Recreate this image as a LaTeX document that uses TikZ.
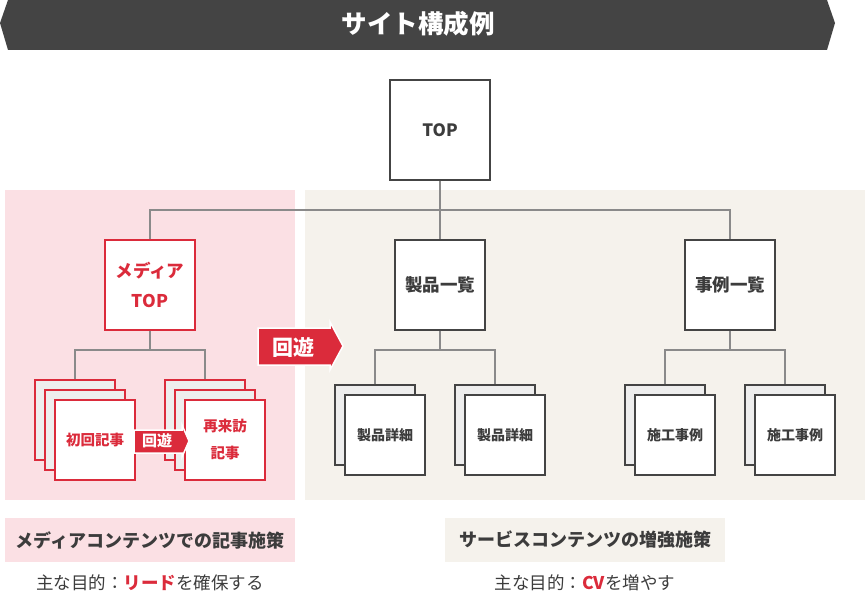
\documentclass[tikz,border=0pt]{standalone}
\usepackage{fontspec}
\setmainfont{Noto Sans CJK JP}
\usetikzlibrary{positioning}
\definecolor{bannergray}{HTML}{444444}
\definecolor{textgray}{HTML}{3C3C3C}
\definecolor{accent}{HTML}{DB2B3B}
\definecolor{pinkbg}{HTML}{FBE0E4}
\definecolor{beigebg}{HTML}{F5F2EC}
\definecolor{backfill}{HTML}{EEEEEE}
\definecolor{linkgray}{HTML}{8A8A8A}
\tikzset{
  box/.style={draw=bannergray, fill=white, line width=1.3pt, minimum size=#1, inner sep=0pt, text=textgray, align=center},
  backbox/.style={box=#1, fill=backfill},
  redbox/.style={draw=accent, fill=white, line width=1.3pt, minimum size=#1, inner sep=0pt, text=accent, align=center},
  redback/.style={redbox=#1, fill=backfill},
  link/.style={draw=linkgray, line width=1.2pt},
  loopshape/.style={fill=accent, draw=white, line width=1.5pt, line join=miter},
}
\begin{document}
\begin{tikzpicture}[x=1pt, y=-1pt]
  \useasboundingbox (0,0) rectangle (865,596);

  % title banner
  \fill[bannergray] (8,0) -- (827,0) -- (835,23) -- (827,50) -- (8,50) -- (0,23) -- cycle;
  \node[text=white, font=\fontsize{25.5}{28}\selectfont\bfseries] (title) at (418,24) {サイト構成例};

  % background areas
  \fill[pinkbg] (5,190) rectangle (295,500);
  \fill[beigebg] (305,190) rectangle (865,500);

  % top level
  \node[box=100, font=\fontsize{17}{20}\selectfont\bfseries] (top) at (440,130) {TOP};
  \node[redbox=90, font=\fontsize{17.5}{30}\selectfont\bfseries] (media) at (150,285) {メディア\\TOP};
  \node[box=90, font=\fontsize{17.5}{20}\selectfont\bfseries] (seihin) at (440,285) {製品一覧};
  \node[box=90, font=\fontsize{17.5}{20}\selectfont\bfseries] (jirei) at (730,285) {事例一覧};

  \coordinate (bus) at (440,210);
  \draw[link] (top) -- (seihin);
  \draw[link] (media.north) -- (media.north |- bus) -- (jirei.north |- bus) -- (jirei.north);

  % media articles (three layers)
  \node[redback=80] (firstc) at (75,420) {};
  \node[redback=80] (firstb) at (85,430) {};
  \node[redbox=80, font=\fontsize{14.5}{17}\selectfont\bfseries] (first) at (95,440) {初回記事};
  \node[redback=80] (againc) at (205,420) {};
  \node[redback=80] (againb) at (215,430) {};
  \node[redbox=80, font=\fontsize{14.5}{27}\selectfont\bfseries] (again) at (225,440) {再来訪\\記事};

  \coordinate (mediabus) at (150,350);
  \draw[link] (media) -- (mediabus);
  \draw[link] (firstc.north) -- (firstc.north |- mediabus) -- (againc.north |- mediabus) -- (againc.north);

  % small loop arrow
  \draw[loopshape] (134,430) -- (182,430) -- (182,425) -- (189,441) -- (182,457) -- (182,453) -- (134,453) -- cycle;
  \node[text=white, font=\fontsize{15}{17}\selectfont\bfseries] (loopsmall) at (157,441) {回遊};

  % big loop arrow
  \draw[loopshape] (258,328) -- (330,328) -- (330,322) -- (343,346) -- (330,370) -- (330,365) -- (258,365) -- cycle;
  \node[text=white, font=\fontsize{21}{23}\selectfont\bfseries] (loopbig) at (293,347) {回遊};

  % product details
  \node[backbox=80] (pdetaila) at (375,425) {};
  \node[box=80, font=\fontsize{14}{16}\selectfont\bfseries] (pdetail) at (385,435) {製品詳細};
  \node[backbox=80] (pdetailc) at (495,425) {};
  \node[box=80, font=\fontsize{14}{16}\selectfont\bfseries] (pdetailb) at (505,435) {製品詳細};

  \coordinate (seihinbus) at (440,350);
  \draw[link] (seihin) -- (seihinbus);
  \draw[link] (pdetaila.north) -- (pdetaila.north |- seihinbus) -- (pdetailc.north |- seihinbus) -- (pdetailc.north);

  % case studies
  \node[backbox=80] (casea) at (665,425) {};
  \node[box=80, font=\fontsize{14}{16}\selectfont\bfseries] (case) at (675,435) {施工事例};
  \node[backbox=80] (casec) at (785,425) {};
  \node[box=80, font=\fontsize{14}{16}\selectfont\bfseries] (caseb) at (795,435) {施工事例};

  \coordinate (jireibus) at (730,350);
  \draw[link] (jirei) -- (jireibus);
  \draw[link] (casea.north) -- (casea.north |- jireibus) -- (casec.north |- jireibus) -- (casec.north);

  % captions
  \node[fill=pinkbg, minimum width=290, minimum height=44, text=textgray, font=\fontsize{18}{21}\selectfont\bfseries] (medialabel) at (150,540) {メディアコンテンツでの記事施策};
  \node[fill=beigebg, minimum width=280, minimum height=44, text=textgray, font=\fontsize{18}{21}\selectfont\bfseries] (servicelabel) at (585,540) {サービスコンテンツの増強施策};
  \node[text=textgray, font=\fontsize{17.5}{20}\selectfont] (mediagoal) at (150,583) {主な目的：\textcolor{accent}{\bfseries リード}を確保する};
  \node[text=textgray, font=\fontsize{17.5}{20}\selectfont] (servicegoal) at (585,583) {主な目的：\textcolor{accent}{\bfseries CV}を増やす};
\end{tikzpicture}
\end{document}
